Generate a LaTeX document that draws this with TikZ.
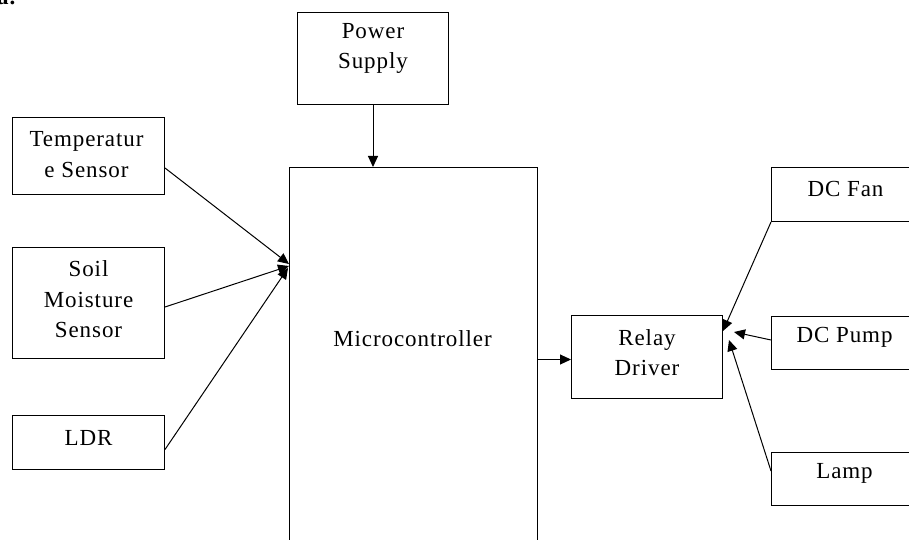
\documentclass[tikz,border=0pt]{standalone}
\usepackage{fontspec}
\setmainfont{Liberation Serif}[LetterSpace=4]
\usetikzlibrary{arrows.meta,calc}
\begin{document}
\begin{tikzpicture}[x=1pt,y=-1pt,
 box/.style={draw, line width=1pt, inner sep=0pt, anchor=north west},
 txt/.style={font=\fontsize{23}{30.5}\selectfont, align=center, inner sep=0pt},
 conn/.style={line width=1pt, -{Triangle[length=11pt,width=10pt]}}]
\useasboundingbox (0,0) rectangle (909,540);
\clip (0,0) rectangle (909,540);
\node[font=\fontsize{23}{23}\selectfont\bfseries, anchor=base west, inner sep=0pt] (lbl) at (-3,5) {a.};
% boxes
\node[box, minimum width=151pt, minimum height=92pt] (power) at (297,12) {};
\node[box, minimum width=152pt, minimum height=77pt] (temp) at (12,117) {};
\node[box, minimum width=152pt, minimum height=111pt] (soil) at (12,247) {};
\node[box, minimum width=152pt, minimum height=54pt] (ldr) at (12,415) {};
\node[box, minimum width=248pt, minimum height=390pt] (micro) at (289,167) {};
\node[box, minimum width=151pt, minimum height=83pt] (relay) at (571,315) {};
\node[box, minimum width=151pt, minimum height=54pt] (fan) at (771,167) {};
\node[box, minimum width=151pt, minimum height=53pt] (pump) at (771,316) {};
\node[box, minimum width=151pt, minimum height=53pt] (lamp) at (771,452) {};
% texts
\node[txt] (tpower) at ($(power.center)+(0,-10)$) {Power\\Supply};
\node[txt] (ttemp) at ($(temp.center)+(-2,-1.5)$) {Temperatur\\e Sensor};
\node[txt] (tsoil) at ($(soil.center)+(0,-3.5)$) {Soil\\Moisture\\Sensor};
\node[txt] (tldr) at ($(ldr.center)+(0,-4.5)$) {LDR};
\node[txt] (tmicro) at ($(micro.center)+(-1,-24)$) {Microcontroller};
\node[txt] (trelay) at ($(relay.center)+(0,-4.5)$) {Relay\\Driver};
\node[txt] (tfan) at ($(fan.center)+(-1.5,-6)$) {DC Fan};
\node[txt] (tpump) at ($(pump.center)+(-2.5,-5.5)$) {DC Pump};
\node[txt] (tlamp) at ($(lamp.center)+(-2.5,-5.5)$) {Lamp};
% connectors
\draw[conn] (power.south) -- (power.south |- micro.north);
\draw[conn] ([yshift=-12pt]temp.east) -- ($(micro.north west)+(0,97)$);
\draw[conn] ([yshift=-4pt]soil.east) -- ($(micro.north west)+(0,99)$);
\draw[conn] ([yshift=-7pt]ldr.east) -- ($(micro.north west)+(-1,101)$);
\coordinate (rin) at ([yshift=-2.5pt]relay.west);
\draw[conn] (rin -| micro.east) -- (rin);
\draw[conn] (fan.south west) -- ($(relay.north east)+(0,16)$);
\draw[conn] ([yshift=3pt]pump.west) -- ($(relay.north east)+(11,17)$);
\draw[conn] ([yshift=8pt]lamp.west) -- ($(relay.north east)+(6,25)$);
\end{tikzpicture}
\end{document}
